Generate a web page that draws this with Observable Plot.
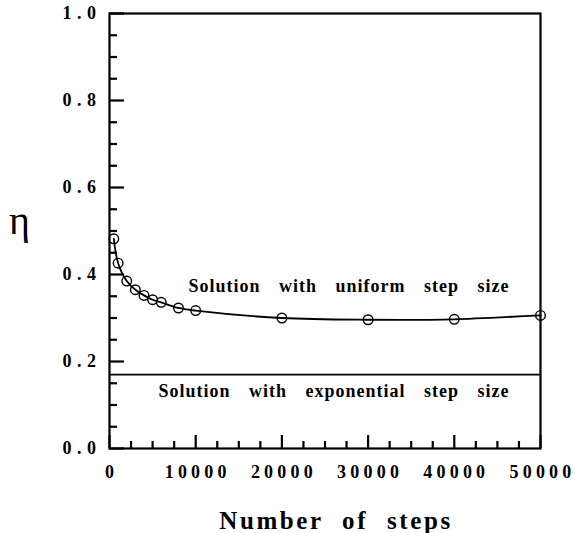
<!DOCTYPE html>
<html>
<head>
<meta charset="utf-8">
<script src="https://cdn.jsdelivr.net/npm/d3@7"></script>
<script src="https://cdn.jsdelivr.net/npm/@observablehq/plot@0.6"></script>
<style>
  html, body { margin: 0; padding: 0; background: #fff; }
  #chart svg { display: block; }
  g.ylabels text { letter-spacing: 5.5px; }
  g.xlabels text { letter-spacing: 4.2px; }
  g.annot text { letter-spacing: 1px; word-spacing: 13px; }
  g.xtitle text { letter-spacing: 2.6px; word-spacing: 10px; }
</style>
</head>
<body>
<div id="chart"></div>
<script>
// Efficiency η versus number of integration steps
const steps = [500, 1000, 2000, 3000, 4000, 5000, 6000, 8000, 10000, 20000, 30000, 40000, 50000];
const etaUniform = [0.482, 0.426, 0.385, 0.365, 0.352, 0.342, 0.336, 0.323, 0.317, 0.300, 0.296, 0.297, 0.306];
const etaExponential = 0.17;

const xMajor = [0, 10000, 20000, 30000, 40000, 50000];
const xMinor = [2500, 5000, 7500, 12500, 15000, 17500, 22500, 25000, 27500, 32500, 35000, 37500, 42500, 45000, 47500];
const yMajor = [0, 0.2, 0.4, 0.6, 0.8, 1.0];
const yMinor = [0.05, 0.1, 0.15, 0.25, 0.3, 0.35, 0.45, 0.5, 0.55, 0.65, 0.7, 0.75, 0.85, 0.9, 0.95];

const uniformLabel = "Solution with uniform step size";
const exponentialLabel = "Solution with exponential step size";
const xTitle = "Number of steps";
const yTitle = "η";

const points = steps.map((s, i) => ({steps: s, eta: etaUniform[i]}));

const W = 575, H = 533;
const M = {left: 109, right: 35, top: 13, bottom: 85};
const xDomain = [0, 50000], yDomain = [0, 1];
// data units per pixel, used to give the inward ticks a fixed pixel length
const xPerPx = (xDomain[1] - xDomain[0]) / (W - M.left - M.right);
const yPerPx = (yDomain[1] - yDomain[0]) / (H - M.top - M.bottom);

const serif = "'Liberation Serif', 'Times New Roman', serif";
const tickStroke = {stroke: "#000", strokeWidth: 2.2};

const chart = Plot.plot({
  width: W,
  height: H,
  marginLeft: M.left,
  marginRight: M.right,
  marginTop: M.top,
  marginBottom: M.bottom,
  style: {fontFamily: serif, fontWeight: "bold", fontSize: "18px", color: "#000", background: "#fff"},
  x: {domain: xDomain, axis: null},
  y: {domain: yDomain, axis: null},
  marks: [
    Plot.frame({stroke: "#000", fill: "none", strokeWidth: 2.2}),
    // tick labels
    Plot.axisY(yMajor, {tickSize: 0, tickPadding: 8, tickFormat: d => d.toFixed(1), label: null, className: "ylabels"}),
    Plot.axisX(xMajor, {tickSize: 0, tickPadding: 17, dx: 2, tickFormat: d => String(d), label: null, className: "xlabels"}),
    // exponential step size solution
    Plot.ruleY([etaExponential], {strokeWidth: 1.7}),
    // uniform step size solution
    Plot.line(points, {x: "steps", y: "eta", curve: "catmull-rom", strokeWidth: 1.8}),
    Plot.dot(points, {x: "steps", y: "eta", r: 4.8, stroke: "#000", strokeWidth: 1.4, fill: "none"}),
    Plot.text([uniformLabel], {x: 50000, y: 0.372, text: d => d, textAnchor: "end", dx: -31, fontSize: 18, className: "annot"}),
    Plot.text([exponentialLabel], {x: 50000, y: 0.131, text: d => d, textAnchor: "end", dx: -31, fontSize: 18, className: "annot"}),
    // inward tick marks along the left and bottom edges
    Plot.ruleY(yMajor, {y: d => d, x1: xDomain[0], x2: xDomain[0] + 15 * xPerPx, ...tickStroke}),
    Plot.ruleY(yMinor, {y: d => d, x1: xDomain[0], x2: xDomain[0] + 8 * xPerPx, ...tickStroke}),
    Plot.ruleX(xMajor, {x: d => d, y1: yDomain[0], y2: yDomain[0] + 13 * yPerPx, ...tickStroke}),
    Plot.ruleX(xMinor, {x: d => d, y1: yDomain[0], y2: yDomain[0] + 7 * yPerPx, ...tickStroke}),
    // axis titles
    Plot.text([xTitle], {frameAnchor: "bottom", dy: 80, dx: 11, textAnchor: "middle", text: d => d, fontSize: 25, className: "xtitle"}),
    Plot.text([yTitle], {frameAnchor: "left", dx: -90, dy: -10, textAnchor: "middle", text: d => d, fontSize: 40, fontWeight: "normal"})
  ]
});

document.getElementById("chart").appendChild(chart);
</script>
</body>
</html>
